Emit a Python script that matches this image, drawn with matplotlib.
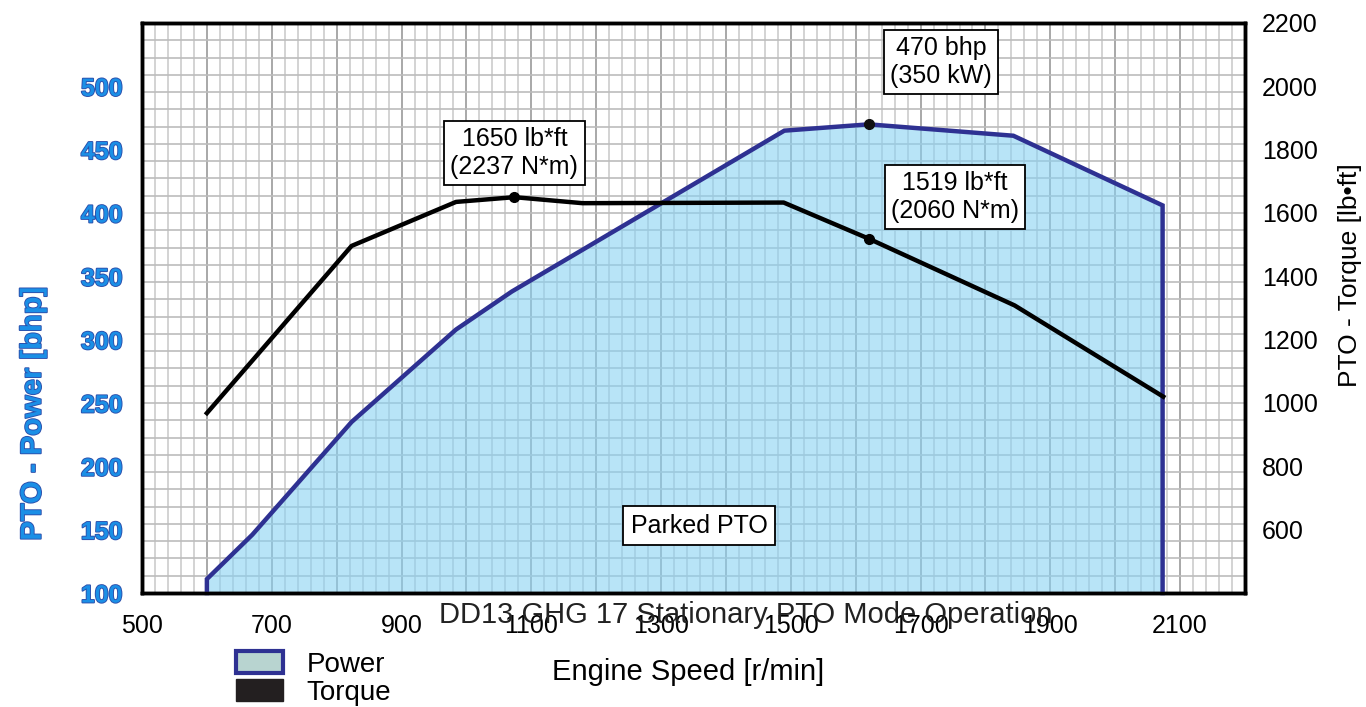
'''PTO power / torque curve for DD13 GHG 17 stationary mode.
'''
import matplotlib
matplotlib.use("Agg")
import matplotlib.pyplot as plt
import matplotlib.patheffects as pe
from matplotlib.patches import Patch
import numpy as np

plt.rcParams["font.family"] = ["Liberation Sans", "DejaVu Sans"]

# power curve (left axis, bhp) - closed polygon down to the 100 baseline
power_rpm = [600, 600, 670, 823, 984, 1070, 1490, 1620, 1843, 2073, 2073]
power_bhp = [100, 111, 146, 235, 308, 338, 465, 470, 461, 406, 100]

# torque curve (right axis, lb*ft)
torque_rpm = [600, 823, 984, 1074, 1179, 1489, 1620, 1845, 2074]
torque_lbft = [968, 1496, 1635, 1650, 1631, 1633, 1519, 1308, 1020]

# marked points
peak_power = (1620, 470)
peak_torque = (1074, 1650)
rated_torque = (1620, 1519)

x_ticks = [500, 700, 900, 1100, 1300, 1500, 1700, 1900, 2100]
left_ticks = [100, 150, 200, 250, 300, 350, 400, 450, 500]
right_ticks = [600, 800, 1000, 1200, 1400, 1600, 1800, 2000, 2200]

BLUE_EDGE = "#2e3192"
BLUE_TXT = "#1b8fe6"
BLUE_OUT = "#2c4eaa"

fig = plt.figure(figsize=(13.66, 7.07), dpi=100)
ax = fig.add_axes([142 / 1366, 114 / 707, 1103 / 1366, 570 / 707])
ax.set_xlim(500, 2200)
ax.set_ylim(100, 550)

# graph-paper grid
for v in np.arange(500, 2201, 20):
    major = v % 100 == 0
    ax.axvline(v, color="#9a9a9a" if major else "#cccccc", lw=1.2, zorder=0)
for h in np.linspace(100, 550, 34):
    ax.axhline(h, color="#bcbcbc", lw=1.2, zorder=0)

ax.fill(power_rpm, power_bhp, facecolor="#89d2f3", alpha=0.6, edgecolor="none", zorder=1)
ax.plot(power_rpm, power_bhp, color=BLUE_EDGE, lw=3.2, zorder=3, clip_on=False,
        solid_joinstyle="miter")
ax.plot(*peak_power, "o", color="#111111", ms=7, zorder=4)

for s in ax.spines.values():
    s.set_linewidth(2.5)
    s.set_color("black")

ax.set_xticks(x_ticks)
ax.set_yticks(left_ticks)
ax.tick_params(axis="x", length=0, pad=15, labelsize=18)
ax.tick_params(axis="y", length=0, pad=14, labelsize=18, labelcolor=BLUE_TXT)
for lab in ax.get_yticklabels():
    lab.set_fontweight("bold")
    lab.set_path_effects([pe.withStroke(linewidth=1.3, foreground=BLUE_OUT)])

ax.set_ylabel("PTO - Power [bhp]", fontsize=21, fontweight="bold", color=BLUE_TXT,
              path_effects=[pe.withStroke(linewidth=1.3, foreground=BLUE_OUT)])
ax.yaxis.set_label_coords(-0.099, 0.314)
ax.yaxis.label.set_va("center")

ax.set_xlabel("Engine Speed [r/min]", fontsize=21)
ax.xaxis.set_label_coords(0.495, -0.139)
ax.xaxis.label.set_va("center")

ax.text(0.547, -0.039, "DD13 GHG 17 Stationary PTO Mode Operation", transform=ax.transAxes,
        ha="center", va="center", fontsize=21, color="#222222", zorder=6)

ax2 = ax.twinx()
ax2.set_ylim(400, 2200)
ax2.set_yticks(right_ticks)
ax2.tick_params(axis="y", length=0, pad=12, labelsize=18)
for s in ax2.spines.values():
    s.set_linewidth(2.5)
ax2.plot(torque_rpm, torque_lbft, color="black", lw=3.2, zorder=3)
ax2.plot(*peak_torque, "o", color="black", ms=7, zorder=4)
ax2.plot(*rated_torque, "o", color="black", ms=7, zorder=4)
ax2.set_ylabel("PTO - Torque [lb\u2022ft]", fontsize=19)
ax2.yaxis.set_label_coords(1.095, 0.558)
ax2.yaxis.label.set_va("center")

box = dict(boxstyle="square,pad=0.25", fc="white", ec="black", lw=1.3)
ax2.annotate("1650 lb*ft\n(2237 N*m)", xy=peak_torque, xytext=(0, 32), textcoords="offset points",
             ha="center", va="center", fontsize=18, bbox=box, zorder=7)
ax2.annotate("1519 lb*ft\n(2060 N*m)", xy=rated_torque, xytext=(62, 30), textcoords="offset points",
             ha="center", va="center", fontsize=18, bbox=box, zorder=7)
ax.annotate("470 bhp\n(350 kW)", xy=peak_power, xytext=(52, 45), textcoords="offset points",
            ha="center", va="center", fontsize=18, bbox=box, zorder=7)
ax.text(0.505, 0.118, "Parked PTO", transform=ax.transAxes, ha="center", va="center",
        fontsize=18, bbox=dict(boxstyle="square,pad=0.3", fc="white", ec="black", lw=1.3), zorder=7)

handles = [Patch(facecolor="#b8d4d0", edgecolor=BLUE_EDGE, lw=3, label="Power"),
           Patch(facecolor="#231f20", edgecolor="#231f20", label="Torque")]
fig.legend(handles=handles, loc="upper left", bbox_to_anchor=(236 / 1366, 1 - 651 / 707),
           frameon=False, fontsize=20, handlelength=1.7, handleheight=0.85,
           handletextpad=0.85, labelspacing=0.05, borderpad=0, borderaxespad=0)

fig.savefig("out.png", dpi=100)
